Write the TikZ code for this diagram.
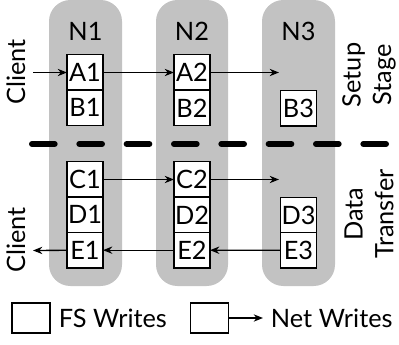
\documentclass[tikz,border=0pt]{standalone}
\usepackage{fontspec}
\setmainfont{Lato}
\usetikzlibrary{positioning,arrows.meta}

\tikzset{every picture/.style={line width=0.75pt}}

\begin{document}
\begin{tikzpicture}[x=0.75pt,y=0.75pt,yscale=-1,xscale=1,
  font=\fontsize{19}{23}\selectfont,
  wbox/.style={draw, fill=white, minimum width=27pt, minimum height=26.5pt, inner sep=0pt, outer sep=0pt, line width=1pt},
  col/.style={fill={rgb, 255:red, 194; green, 194; blue, 194 }, rounded corners=16pt},
  wr/.style={-{Stealth[length=7pt,width=5.5pt]}, line width=1pt}]
\useasboundingbox (0,0) rectangle (399,345);

%Rounded Rect columns
\fill [col] (49,0) rectangle (122,286);
\fill [col] (156,0) rectangle (228,286);
\fill [col] (262,0) rectangle (335,286);

% Text Node
\node (n1) at (85.5,31) {N1};
\node (n2) at (192,31) {N2};
\node (n3) at (298.5,31) {N3};

% setup stage boxes
\node [wbox] (a1) at (85,72.5) {A1};
\node [wbox, below=0pt of a1] (b1) {B1};
\node [wbox] (a2) at (192,72.5) {A2};
\node [wbox, below=0pt of a2] (b2) {B2};
\node [wbox] (b3) at (298.5,108.5) {B3};

% data transfer boxes
\node [wbox] (c1) at (85,179.5) {C1};
\node [wbox, below=0pt of c1] (d1) {D1};
\node [wbox, below=0pt of d1] (e1) {E1};
\node [wbox] (c2) at (192,179.5) {C2};
\node [wbox, below=0pt of c2] (d2) {D2};
\node [wbox, below=0pt of d2] (e2) {E2};
\node [wbox] (d3) at (298.5,215) {D3};
\node [wbox, below=0pt of d3] (e3) {E3};

% Text Node
\node [rotate=90] (cl1) at (16,72) {Client};
\node [rotate=90] (cl2) at (16,240) {Client};
\node [rotate=90, align=center] (setup) at (369,75) {Setup\\Stage};
\node [rotate=90, align=center] (data) at (369,214) {Data\\Transfer};

\coordinate (in1) at (33,72.5);
\coordinate (out1) at (33,250.5);
\coordinate (to3a) at (279,72.5);
\coordinate (to3c) at (279,179.5);

%Straight Lines
\draw [wr] (in1) -- (a1);
\draw [wr] (a1) -- (a2);
\draw [wr] (a2) -- (to3a);
\draw [wr] (c1) -- (c2);
\draw [wr] (c2) -- (to3c);
\draw [wr] (e3) -- (e2);
\draw [wr] (e2) -- (e1);
\draw [wr] (e1) -- (out1);

% stage separator
\draw [line width=4.5pt, line cap=round, dash pattern={on 17pt off 18.5pt}] (32,144) -- (390,144);

% legend
\node [wbox, minimum width=28.5pt, minimum height=22.5pt] (lfs) at (31,318) {};
\node [anchor=west] (tfs) at (54,318) {FS Writes};
\node [wbox, minimum width=28.5pt, minimum height=22.5pt] (lnet) at (209.5,318) {};
\coordinate (lnetend) at (263,318);
\draw [wr] (lnet) -- (lnetend);
\node [anchor=west] (tnet) at (266,318) {Net Writes};

\end{tikzpicture}
\end{document}
